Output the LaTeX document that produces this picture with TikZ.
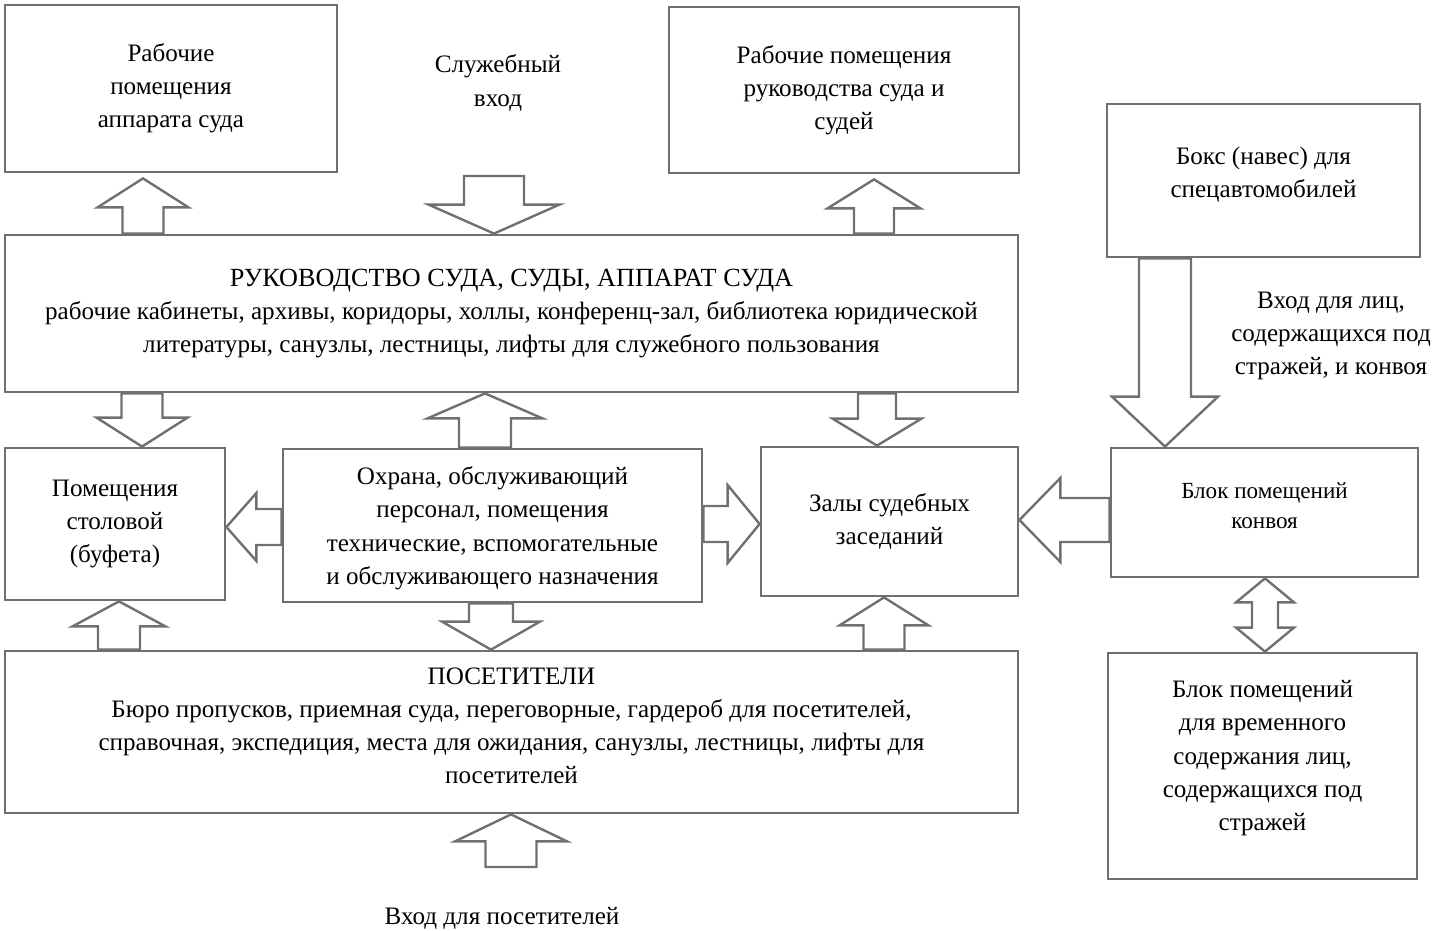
\documentclass[tikz,border=0pt]{standalone}
\usepackage{fontspec}
\setmainfont{Liberation Serif}
\usetikzlibrary{calc, positioning}
\definecolor{linegray}{RGB}{112,112,112}

% outlined block arrow: tail, tip, half shaft, half head, head length (px)
\newcommand{\blockarrow}[5]{%
  \draw[arrowline] let \p1=($#2-#1$), \n1={veclen(\x1,\y1)}, \n2={atan2(\y1,\x1)} in
    [shift={#1}, rotate=\n2]
    (0pt,{#3*0.5pt}) -- ({\n1-#5*0.5pt},{#3*0.5pt}) -- ({\n1-#5*0.5pt},{#4*0.5pt}) -- (\n1,0pt)
    -- ({\n1-#5*0.5pt},{-#4*0.5pt}) -- ({\n1-#5*0.5pt},{-#3*0.5pt}) -- (0pt,{-#3*0.5pt}) -- cycle;
}
% same with a head on both ends
\newcommand{\dblockarrow}[5]{%
  \draw[arrowline] let \p1=($#2-#1$), \n1={veclen(\x1,\y1)}, \n2={atan2(\y1,\x1)} in
    [shift={#1}, rotate=\n2]
    (0pt,0pt) -- ({#5*0.5pt},{#4*0.5pt}) -- ({#5*0.5pt},{#3*0.5pt}) -- ({\n1-#5*0.5pt},{#3*0.5pt})
    -- ({\n1-#5*0.5pt},{#4*0.5pt}) -- (\n1,0pt) -- ({\n1-#5*0.5pt},{-#4*0.5pt}) -- ({\n1-#5*0.5pt},{-#3*0.5pt})
    -- ({#5*0.5pt},{-#3*0.5pt}) -- ({#5*0.5pt},{-#4*0.5pt}) -- cycle;
}

\begin{document}
\begin{tikzpicture}[x=0.5pt, y=-0.5pt,
  box/.style={draw=linegray, line width=1.4pt, align=center, inner sep=2pt,
    font=\fontsize{12.55}{16.6}\selectfont},
  note/.style={align=center, inner sep=0pt, font=\fontsize{12.55}{16.6}\selectfont},
  arrowline/.style={draw=linegray, line width=1.2pt, line join=miter}]
\useasboundingbox (0,0) rectangle (1436,931);

% rooms
\node[box, minimum width=166pt, minimum height=83.5pt] (apparat) at (171,88.5)
  {Рабочие\\помещения\\аппарата суда};
\node[box, minimum width=175pt, minimum height=83pt] (judges) at (844,90)
  {Рабочие помещения\\руководства суда и\\судей};
\node[box, minimum width=156.5pt, minimum height=76.5pt, text depth=8pt] (garage) at (1263.5,180.5)
  {Бокс (навес) для\\спецавтомобилей};
\node[box, minimum width=506.5pt, minimum height=78.5pt] (staff) at (511.5,313.5)
  {{\fontsize{13.1}{16.6}\selectfont РУКОВОДСТВО СУДА, СУДЫ, АППАРАТ СУДА}\\
   рабочие кабинеты, архивы, коридоры, холлы, конференц-зал, библиотека юридической\\
   литературы, санузлы, лестницы, лифты для служебного пользования};
\node[box, minimum width=110pt, minimum height=76pt] (canteen) at (115,524)
  {Помещения\\столовой\\(буфета)};
\node[box, minimum width=209.5pt, minimum height=76.5pt, text depth=0pt] (service) at (492.5,525.5)
  {Охрана, обслуживающий\\персонал, помещения\\технические, вспомогательные\\и обслуживающего назначения};
\node[box, minimum width=128.5pt, minimum height=74.5pt] (halls) at (889.5,521.5)
  {Залы судебных\\заседаний};
\node[box, minimum width=153.5pt, minimum height=64.5pt, text depth=7pt,
  font=\fontsize{11.55}{15}\selectfont] (convoy) at (1264.5,512.5)
  {Блок помещений\\конвоя};
\node[box, minimum width=506.5pt, minimum height=81pt, text depth=6.5pt] (visitors) at (511.5,732)
  {ПОСЕТИТЕЛИ\\
   Бюро пропусков, приемная суда, переговорные, гардероб для посетителей,\\
   справочная, экспедиция, места для ожидания, санузлы, лестницы, лифты для\\
   посетителей};
\node[box, minimum width=154.5pt, minimum height=113pt, text depth=10.5pt] (cells) at (1262.5,766)
  {Блок помещений\\для временного\\содержания лиц,\\содержащихся под\\стражей};

% entrances
\node[note] (staffin) at (498,83) {Служебный\\вход};
\node[note] (convoyin) at (1331,336) {Вход для лиц,\\содержащихся под\\стражей, и конвоя};
\node[note] (visitin) at (502,918) {Вход для посетителей};
\coordinate (staffdoor) at (494,176);
\coordinate (visitdoor) at (511,867);

% connections
\blockarrow{(143,0 |- staff.north)}{($(143,0 |- apparat.south)+(0,5)$)}{20.5}{45.5}{29}
\blockarrow{(staffdoor)}{(494,0 |- staff.north)}{30}{65.5}{29}
\blockarrow{(874,0 |- staff.north)}{($(874,0 |- judges.south)+(0,5)$)}{20}{46.5}{29}
\blockarrow{(142,0 |- staff.south)}{(142,0 |- canteen.north)}{20.5}{45.5}{29}
\blockarrow{(485,0 |- service.north)}{(485,0 |- staff.south)}{26}{57.5}{25}
\blockarrow{(877,0 |- staff.south)}{(877,0 |- halls.north)}{19}{44.5}{27}
\blockarrow{(1165,0 |- garage.south)}{(1165,0 |- convoy.north)}{26}{53}{50}
\dblockarrow{(1265,0 |- convoy.south)}{(1265,0 |- cells.north)}{13}{29}{24}
\blockarrow{(119,0 |- visitors.north)}{(119,0 |- canteen.south)}{21}{46.5}{25}
\blockarrow{(491,0 |- service.south)}{(491,0 |- visitors.north)}{22}{49}{28}
\blockarrow{(884,0 |- visitors.north)}{(884,0 |- halls.south)}{20.5}{44.5}{28}
\blockarrow{(visitdoor)}{(511,0 |- visitors.south)}{25.5}{56}{27}
\blockarrow{(service.west |- 0,527)}{(canteen.east |- 0,527)}{18}{34}{30}
\blockarrow{(service.east |- 0,524)}{(halls.west |- 0,524)}{18}{39}{32}
\blockarrow{(convoy.west |- 0,520)}{(halls.east |- 0,520)}{22}{42}{41}
\end{tikzpicture}
\end{document}
